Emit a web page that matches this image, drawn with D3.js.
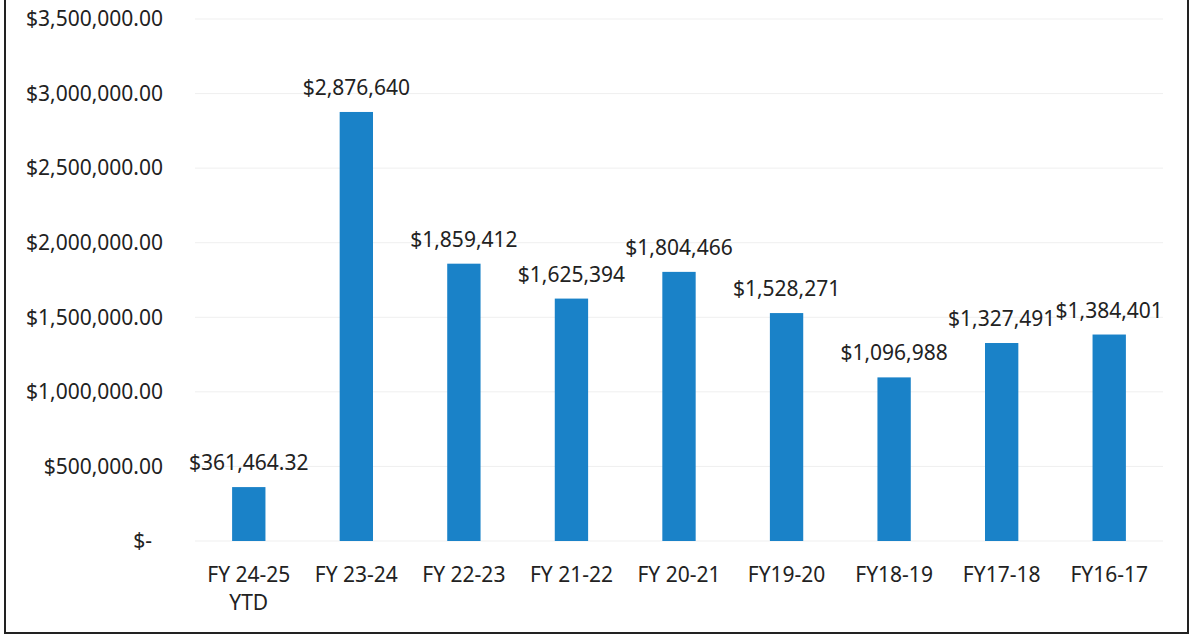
<!DOCTYPE html>
<html>
<head>
<meta charset="utf-8">
<script src="https://cdn.jsdelivr.net/npm/d3@7"></script>
<style>
  body { margin: 0; background: #fff; }
  text { font-family: "Noto Sans", "Open Sans", sans-serif; fill: #222; }
</style>
</head>
<body>
<svg id="chart" width="1191" height="635"></svg>
<script>
// values
const categories = ["FY 24-25\nYTD", "FY 23-24", "FY 22-23", "FY 21-22", "FY 20-21", "FY19-20", "FY18-19", "FY17-18", "FY16-17"];
const amounts = [361464.32, 2876640, 1859412, 1625394, 1804466, 1528271, 1096988, 1327491, 1384401];
const yTicks = [0, 500000, 1000000, 1500000, 2000000, 2500000, 3000000, 3500000];

function drawChart() {
    const svg = d3.select("#chart");
    const width = +svg.attr("width");

    // frame round the chart (top edge is cut off in the scan)
    svg.append("rect")
        .attr("x", 5)
        .attr("y", -10)
        .attr("width", width - 8)
        .attr("height", 643)
        .attr("fill", "none")
        .attr("stroke", "#222")
        .attr("stroke-width", 2);

    const plot = { left: 195, right: 1163, top: 19, bottom: 541 };

    const x = d3.scaleBand()
        .domain(categories)
        .range([plot.left, plot.right])
        .paddingInner(0.69)
        .paddingOuter(0.345);

    const y = d3.scaleLinear()
        .domain([0, 3500000])
        .range([plot.bottom, plot.top]);

    // gridlines (very faint in the original)
    svg.append("g")
        .selectAll("line")
        .data(yTicks)
        .enter().append("line")
        .attr("x1", plot.left)
        .attr("x2", plot.right)
        .attr("y1", d => y(d))
        .attr("y2", d => y(d))
        .attr("stroke", "#efefef")
        .attr("stroke-width", 1);

    // y axis labels
    const yAxis = svg.append("g")
        .attr("transform", `translate(${plot.left - 32},0)`)
        .call(d3.axisLeft(y)
            .tickValues(yTicks)
            .tickSize(0)
            .tickPadding(0)
            .tickFormat(d => d === 0 ? "$-" : "$" + d3.format(",.2f")(d)));
    yAxis.select(".domain").remove();
    yAxis.selectAll("text")
        .attr("font-size", "21px")
        .attr("font-family", "Noto Sans, sans-serif")
        .attr("fill", "#222")
        .attr("dx", d => d === 0 ? -11 : 0);

    // bars
    svg.append("g")
        .selectAll("rect")
        .data(amounts)
        .enter().append("rect")
        .attr("x", (d, i) => x(categories[i]))
        .attr("y", d => y(d))
        .attr("width", x.bandwidth())
        .attr("height", d => y(0) - y(d))
        .attr("fill", "#1a82c8");

    // value labels
    svg.append("g")
        .selectAll("text")
        .data(amounts)
        .enter().append("text")
        .attr("x", (d, i) => x(categories[i]) + x.bandwidth() / 2)
        .attr("y", d => y(d) - 17)
        .attr("text-anchor", "middle")
        .attr("font-size", "21px")
        .text(d => "$" + (Number.isInteger(d) ? d3.format(",.0f")(d) : d3.format(",.2f")(d)));

    // category labels
    const xLabels = svg.append("g")
        .selectAll("text")
        .data(categories)
        .enter().append("text")
        .attr("x", d => x(d) + x.bandwidth() / 2)
        .attr("y", 582)
        .attr("text-anchor", "middle")
        .attr("font-size", "21px");
    xLabels.selectAll("tspan")
        .data(d => d.split("\n"))
        .enter().append("tspan")
        .attr("x", function () { return d3.select(this.parentNode).attr("x"); })
        .attr("dy", (d, i) => i === 0 ? 0 : 28)
        .text(d => d);
}

drawChart();
</script>
</body>
</html>
